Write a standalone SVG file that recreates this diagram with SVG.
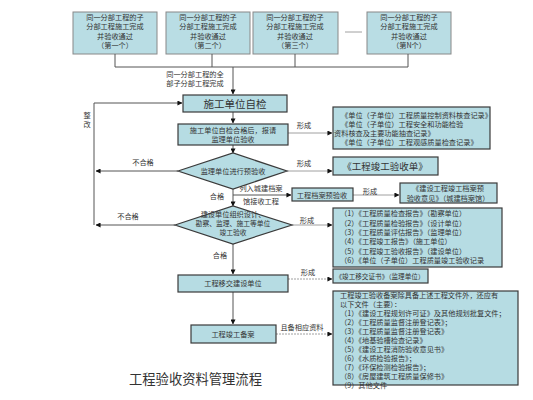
<svg xmlns="http://www.w3.org/2000/svg" width="533" height="400" viewBox="0 0 533 400">
<defs>
<style>
text{font-family:"Noto Sans CJK SC","Noto Sans",sans-serif;fill:#333}
.b{fill:#b6dce3;stroke:#3a3a3a;stroke-width:1.2}
.t{fill:#b9dde4;stroke:#888;stroke-width:1}
.l{fill:none;stroke:#555;stroke-width:1}
.g{fill:none;stroke:#888;stroke-width:0.8}
.s7{font-size:7.2px}
.c{text-anchor:middle}
</style>
<marker id="a" viewBox="0 0 6 6" refX="5.5" refY="3" markerWidth="5" markerHeight="5" orient="auto" markerUnits="userSpaceOnUse">
<path d="M0,0 L6,3 L0,6 z" fill="#111"/>
</marker>
</defs>
<rect width="533" height="400" fill="#fff"/>

<g id="top1"><rect class="t" x="73" y="12" width="84" height="42"/>
<text class="s7 c" x="115" y="20">同一分部工程的子</text><text class="s7 c" x="115" y="29">分部工程施工完成</text><text class="s7 c" x="115" y="38.5">并验收通过</text><text class="s7 c" x="115" y="48">（第一个）</text></g>
<g id="top2"><rect class="t" x="166" y="12" width="84" height="42"/>
<text class="s7 c" x="208" y="20">同一分部工程的子</text><text class="s7 c" x="208" y="29">分部工程施工完成</text><text class="s7 c" x="208" y="38.5">并验收通过</text><text class="s7 c" x="208" y="48">（第二个）</text></g>
<g id="top3"><rect class="t" x="253" y="12" width="85" height="42"/>
<text class="s7 c" x="295" y="20">同一分部工程的子</text><text class="s7 c" x="295" y="29">分部工程施工完成</text><text class="s7 c" x="295" y="38.5">并验收通过</text><text class="s7 c" x="295" y="48">（第三个）</text></g>
<g id="top4"><rect class="t" x="367" y="12" width="84" height="42"/>
<text class="s7 c" x="409" y="20">同一分部工程的子</text><text class="s7 c" x="409" y="29">分部工程施工完成</text><text class="s7 c" x="409" y="38.5">并验收通过</text><text class="s7 c" x="409" y="48">（第N个）</text></g>

<g id="connectors">
<path class="g" d="M345,32 H362"/>
<path class="l" d="M115,54 V67 H408 V54 M212,54 V67 M295,54 V67"/>
<path class="l" d="M233,67 V94" marker-end="url(#a)"/>
<path class="l" d="M233,112 V123" marker-end="url(#a)"/>
<path class="l" d="M233,145 V153" marker-end="url(#a)"/>
<path class="l" d="M233,189 V206" marker-end="url(#a)"/>
<path class="l" d="M233,244 V274" marker-end="url(#a)"/>
<path class="l" d="M233,292 V324" marker-end="url(#a)"/>
<path class="l" d="M178,171 H96" marker-end="url(#a)"/>
<path class="l" d="M175,225 H96" marker-end="url(#a)"/>
<path class="l" d="M94,225 V103 H182" marker-end="url(#a)"/>
<path class="g" d="M288,133 H332" marker-end="url(#a)"/>
<path class="g" d="M287,171 H332" marker-end="url(#a)"/>
<path class="l" d="M233,195 H291" marker-end="url(#a)"/>
<path class="g" d="M353,195 H399" marker-end="url(#a)"/>
<path class="g" d="M292,225 H332" marker-end="url(#a)"/>
<path class="g" d="M288,279 H332" stroke-dasharray="2,1" marker-end="url(#a)"/>
<path class="g" d="M276,334 H332" stroke-dasharray="2,1" marker-end="url(#a)"/>
<text class="s7 c" x="195" y="77">同一分部工程的全</text>
<text class="s7 c" x="195" y="86">部子分部工程完成</text>
<text class="s7 c" x="87" y="118">整</text>
<text class="s7 c" x="87" y="127">改</text>
<text class="s7 c" x="143" y="165">不合格</text>
<text class="s7 c" x="128" y="219">不合格</text>
<text class="s7 c" x="304" y="128">形成</text>
<text class="s7 c" x="304" y="166">形成</text>
<text class="s7 c" x="217" y="199">合格</text>
<text class="s7 c" x="261" y="191">列入城建档案</text>
<text class="s7 c" x="261" y="204">馆接收工程</text>
<text class="s7 c" x="370" y="194">形成</text>
<text class="s7 c" x="307" y="223">形成</text>
<text class="s7 c" x="220" y="258">合格</text>
<text class="s7 c" x="308" y="275">形成</text>
<text class="s7 c" x="302" y="330">且备相应资料</text>
</g>

<g id="selfcheck"><rect class="b" x="183" y="95" width="104" height="17"/>
<text class="c" x="235" y="107.5" font-size="10.5">施工单位自检</text></g>
<g id="report"><rect class="b" x="178" y="124" width="110" height="21"/>
<text class="s7 c" x="233" y="133">施工单位自检合格后，报请</text><text class="s7 c" x="233" y="142">监理单位验收</text></g>
<g id="pre"><polygon class="b" points="178,171 233,153 287,171 233,189"/>
<text class="s7 c" x="233" y="174">监理单位进行预验收</text></g>
<g id="final"><polygon class="b" points="175,225 233,206 292,225 233,244"/>
<text class="s7 c" x="233" y="217" font-size="6.8">建设单位组织设计、</text><text class="c" x="233" y="226" font-size="6.8">勘察、监理、施工等单位</text><text class="c" x="233" y="235" font-size="6.8">竣工验收</text></g>
<g id="records"><rect class="b" x="333" y="107" width="157" height="42"/>
<text class="s7" x="341" y="118">《单位（子单位）工程质量控制资料核查记录》</text>
<text class="s7" x="341" y="127">《单位（子单位）工程安全和功能检验</text>
<text class="s7" x="334" y="136">资料核查及主要功能抽查记录》</text>
<text class="s7" x="341" y="145">《单位（子单位）工程观感质量检查记录》</text></g>
<g id="form"><rect class="b" x="333" y="157" width="105" height="18"/>
<text x="385" y="169.5" class="c" font-size="9.5">《工程竣工验收单》</text></g>
<g id="archive"><rect class="b" x="292" y="188" width="61" height="13"/>
<text class="s7 c" x="322" y="197.5">工程档案预验收</text></g>
<g id="opinion"><rect class="b" x="400" y="183" width="97" height="20"/>
<text class="s7 c" x="448" y="191">《建设工程竣工档案预</text><text class="s7 c" x="448" y="200.5">验收意见》（城建档案馆）</text></g>
<g id="reports"><rect class="b" x="333" y="208" width="169" height="59"/>
<text class="s7" x="340" y="216">（1）《工程质量检查报告》（勘察单位）</text>
<text class="s7" x="340" y="225.5">（2）《工程质量检验报告》（设计单位）</text>
<text class="s7" x="340" y="235">（3）《工程质量评估报告》（监理单位）</text>
<text class="s7" x="340" y="244">（4）《工程竣工报告》（施工单位）</text>
<text class="s7" x="340" y="253.5">（5）《工程竣工验收报告》（建设单位）</text>
<text class="s7" x="340" y="263">（6）《单位（子单位）工程质量竣工验收记录</text></g>
<g id="handover"><rect class="b" x="178" y="275" width="110" height="17"/>
<text class="s7 c" x="233" y="286">工程移交建设单位</text></g>
<g id="cert"><rect class="b" x="333" y="269" width="95" height="14"/>
<text class="c" x="380" y="279" font-size="6.6">《竣工移交证书》（监理单位）</text></g>
<g id="filing"><rect class="b" x="191" y="325" width="85" height="18"/>
<text class="s7 c" x="233" y="337">工程竣工备案</text></g>
<g id="docs"><rect class="b" x="333" y="291" width="185" height="94"/>
<text class="s7" x="340" y="298">工程竣工验收备案除具备上述工程文件外，还应有</text>
<text class="s7" x="340" y="307">以下文件（主要）：</text>
<text class="s7" x="340" y="316">（1）《建设工程规划许可证》及其他规划批复文件；</text>
<text class="s7" x="340" y="325">（2）《工程质量监督注册登记表》；</text>
<text class="s7" x="340" y="334">（3）《工程质量监督注册登记表》</text>
<text class="s7" x="340" y="343">（4）《地基验槽检查记录》</text>
<text class="s7" x="340" y="352">（5）《建设工程消防验收意见书》</text>
<text class="s7" x="340" y="361">（6）《水质检验报告》；</text>
<text class="s7" x="340" y="370">（7）《环保检测检验报告》；</text>
<text class="s7" x="340" y="379">（8）《房屋建筑工程质量保修书》</text>
<text class="s7" x="340" y="387.5">（9）其他文件</text></g>

<text x="129" y="384" font-size="13.3">工程验收资料管理流程</text>
</svg>
